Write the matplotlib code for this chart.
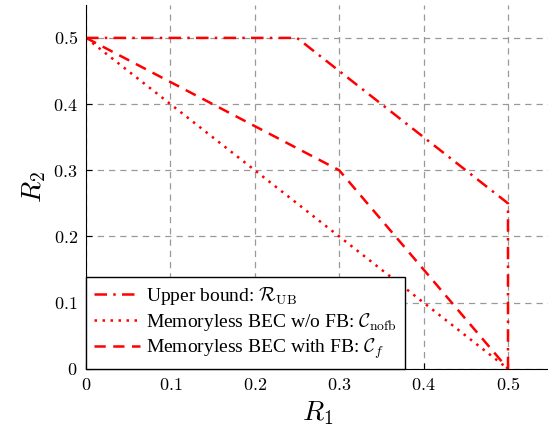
import numpy as np
import matplotlib
matplotlib.use('Agg')
import matplotlib.pyplot as plt
from matplotlib.ticker import FuncFormatter

plt.rcParams['font.family'] = ['Liberation Serif', 'DejaVu Serif']
plt.rcParams['mathtext.fontset'] = 'cm'

# data
ub_r1 = [0.0, 0.25, 0.5, 0.5]
ub_r2 = [0.5, 0.5, 0.25, 0.0]
nofb_r1 = [0.0, 0.5]
nofb_r2 = [0.5, 0.0]
fb_r1 = [0.0, 0.3, 0.5]
fb_r2 = [0.5, 0.3, 0.0]
xticks = [0, 0.1, 0.2, 0.3, 0.4, 0.5]
yticks = [0, 0.1, 0.2, 0.3, 0.4, 0.5]

fig = plt.figure(figsize=(5.48, 4.37), dpi=100)
ax = fig.add_axes([0.157, 0.156, 0.847, 0.833])

ax.plot(ub_r1, ub_r2, color='red', lw=1.8, dashes=(5, 2.5, 1, 2.5),
        label=r'Upper bound: $\mathcal{R}_{\mathrm{UB}}$')
ax.plot(nofb_r1, nofb_r2, color='red', lw=1.8, linestyle=(0, (1, 2.2)),
        label=r'Memoryless BEC w/o FB: $\mathcal{C}_{\mathrm{nofb}}$')
ax.plot(fb_r1, fb_r2, color='red', lw=1.8, dashes=(4.5, 3),
        label=r'Memoryless BEC with FB: $\mathcal{C}_f$')

ax.set_xlim(0, 0.55)
ax.set_ylim(0, 0.55)
ax.set_xticks(xticks)
ax.set_yticks(yticks)
fmt = FuncFormatter(lambda v, p: '$0$' if v == 0 else '$%.1f$' % v)
ax.xaxis.set_major_formatter(fmt)
ax.yaxis.set_major_formatter(fmt)
ax.tick_params(direction='in', length=4, labelsize=13, pad=6)
ax.grid(True, color='#999999', linestyle=(0, (5, 4)), lw=0.9)
ax.spines['top'].set_visible(False)
ax.spines['right'].set_visible(False)

ax.set_xlabel('$R_1$', fontsize=20)
ax.set_ylabel('$R_2$', fontsize=20)

leg = ax.legend(loc='lower left', fontsize=14, fancybox=False, framealpha=1,
                edgecolor='black', borderaxespad=0, handlelength=2.4,
                labelspacing=0.2, borderpad=0.4, handletextpad=0.3)
leg.get_frame().set_linewidth(1.0)

fig.savefig('out.png', dpi=100)
